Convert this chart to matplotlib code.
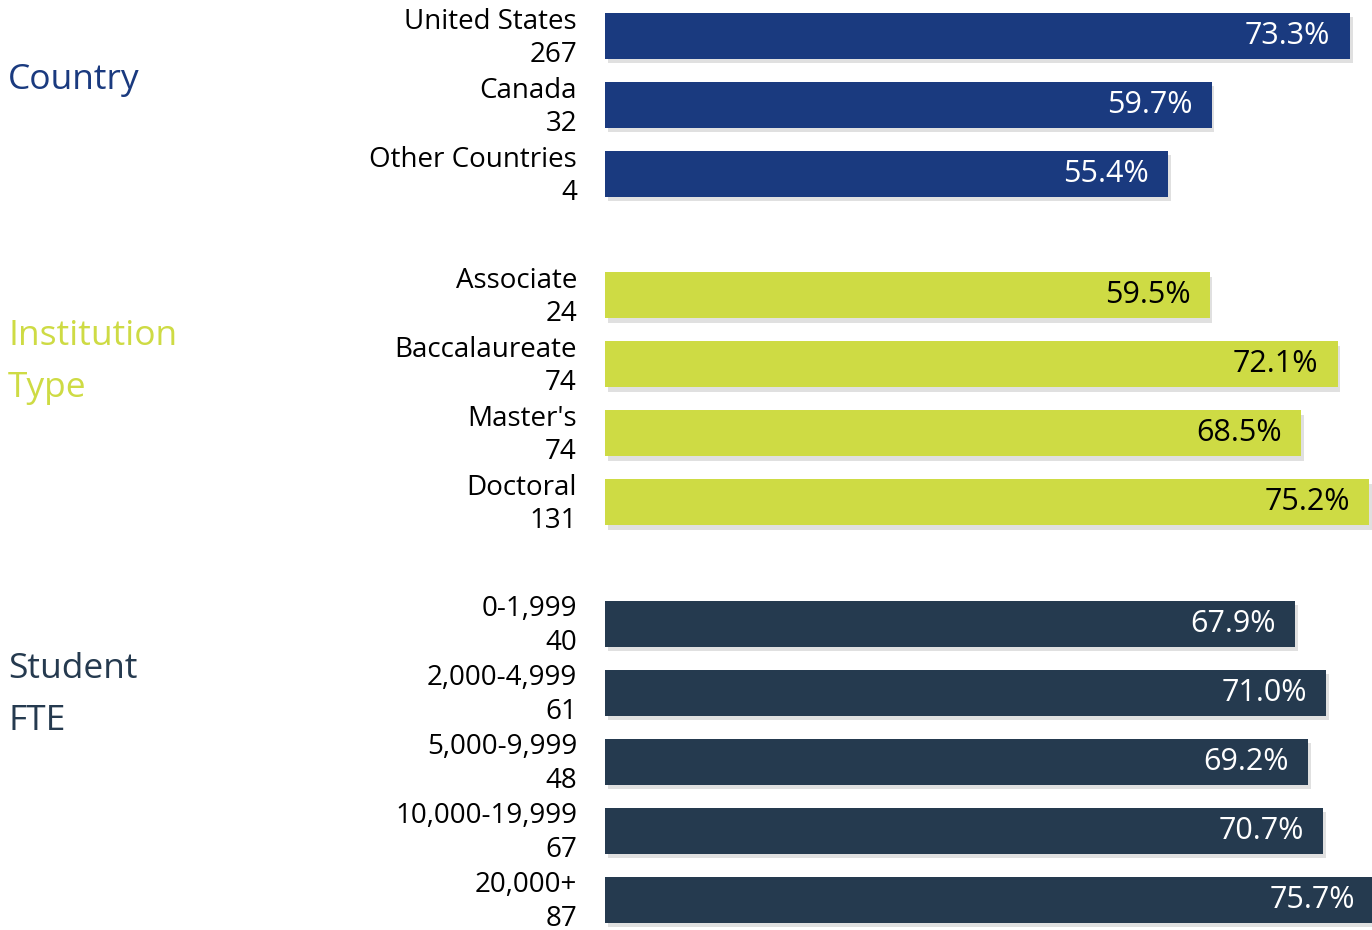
import matplotlib.pyplot as plt
import matplotlib.patheffects as pe
from matplotlib.transforms import blended_transform_factory

plt.rcParams['font.family'] = ['Open Sans', 'DejaVu Sans']

groups = ['Country', 'Institution\nType', 'Student\nFTE']
group_colors = ['#1a3a7f', '#cedb44', '#253a4f']
value_colors = ['white', 'black', 'white']

country_names = ['United States', 'Canada', 'Other Countries']
country_counts = [267, 32, 4]
country_pct = [73.3, 59.7, 55.4]

inst_names = ['Associate', 'Baccalaureate', "Master's", 'Doctoral']
inst_counts = [24, 74, 74, 131]
inst_pct = [59.5, 72.1, 68.5, 75.2]

fte_names = ['0-1,999', '2,000-4,999', '5,000-9,999', '10,000-19,999', '20,000+']
fte_counts = [40, 61, 48, 67, 87]
fte_pct = [67.9, 71.0, 69.2, 70.7, 75.7]

all_names = [country_names, inst_names, fte_names]
all_counts = [country_counts, inst_counts, fte_counts]
all_pct = [country_pct, inst_pct, fte_pct]

W, H = 1372, 930
fig = plt.figure(figsize=(W / 100, H / 100), dpi=100)
ax = fig.add_axes([605 / W, 0, 1 - 605 / W, 1])

row_px = 69
first_px = 36
ax.set_ylim((H - first_px) / row_px, -first_px / row_px)
ax.set_xlim(0, (W - 605) / 10.16)
ax.axis('off')

lbl_tr = blended_transform_factory(fig.transFigure, ax.transData)
shadow = [pe.SimplePatchShadow(offset=(2, -3), shadow_rgbFace='#999999', alpha=0.3), pe.Normal()]

gap = 0.76
pos = 0.0
for g in range(len(groups)):
    positions = []
    for i in range(len(all_names[g])):
        positions.append(pos)
        pos += 1
    pos += gap
    bars = ax.barh(positions, all_pct[g], height=0.667, color=group_colors[g])
    for b in bars:
        b.set_path_effects(shadow)
    for p, name, cnt, v in zip(positions, all_names[g], all_counts[g], all_pct[g]):
        ax.text(577 / W, p - 0.21, name, transform=lbl_tr, ha='right', va='center',
                fontsize=20, color='black')
        ax.text(577 / W, p + 0.27, str(cnt), transform=lbl_tr, ha='right', va='center',
                fontsize=20, color='black')
        ax.text(v - 1.9, p, f'{v:.1f}%', ha='right', va='center',
                fontsize=22, color=value_colors[g])

group_y_px = [80, 362, 695]
for name, color, ypx in zip(groups, group_colors, group_y_px):
    fig.text(8 / W, 1 - ypx / H, name, ha='left', va='center', fontsize=25.5,
             color=color, linespacing=1.7)

fig.savefig('out.png', dpi=100)
